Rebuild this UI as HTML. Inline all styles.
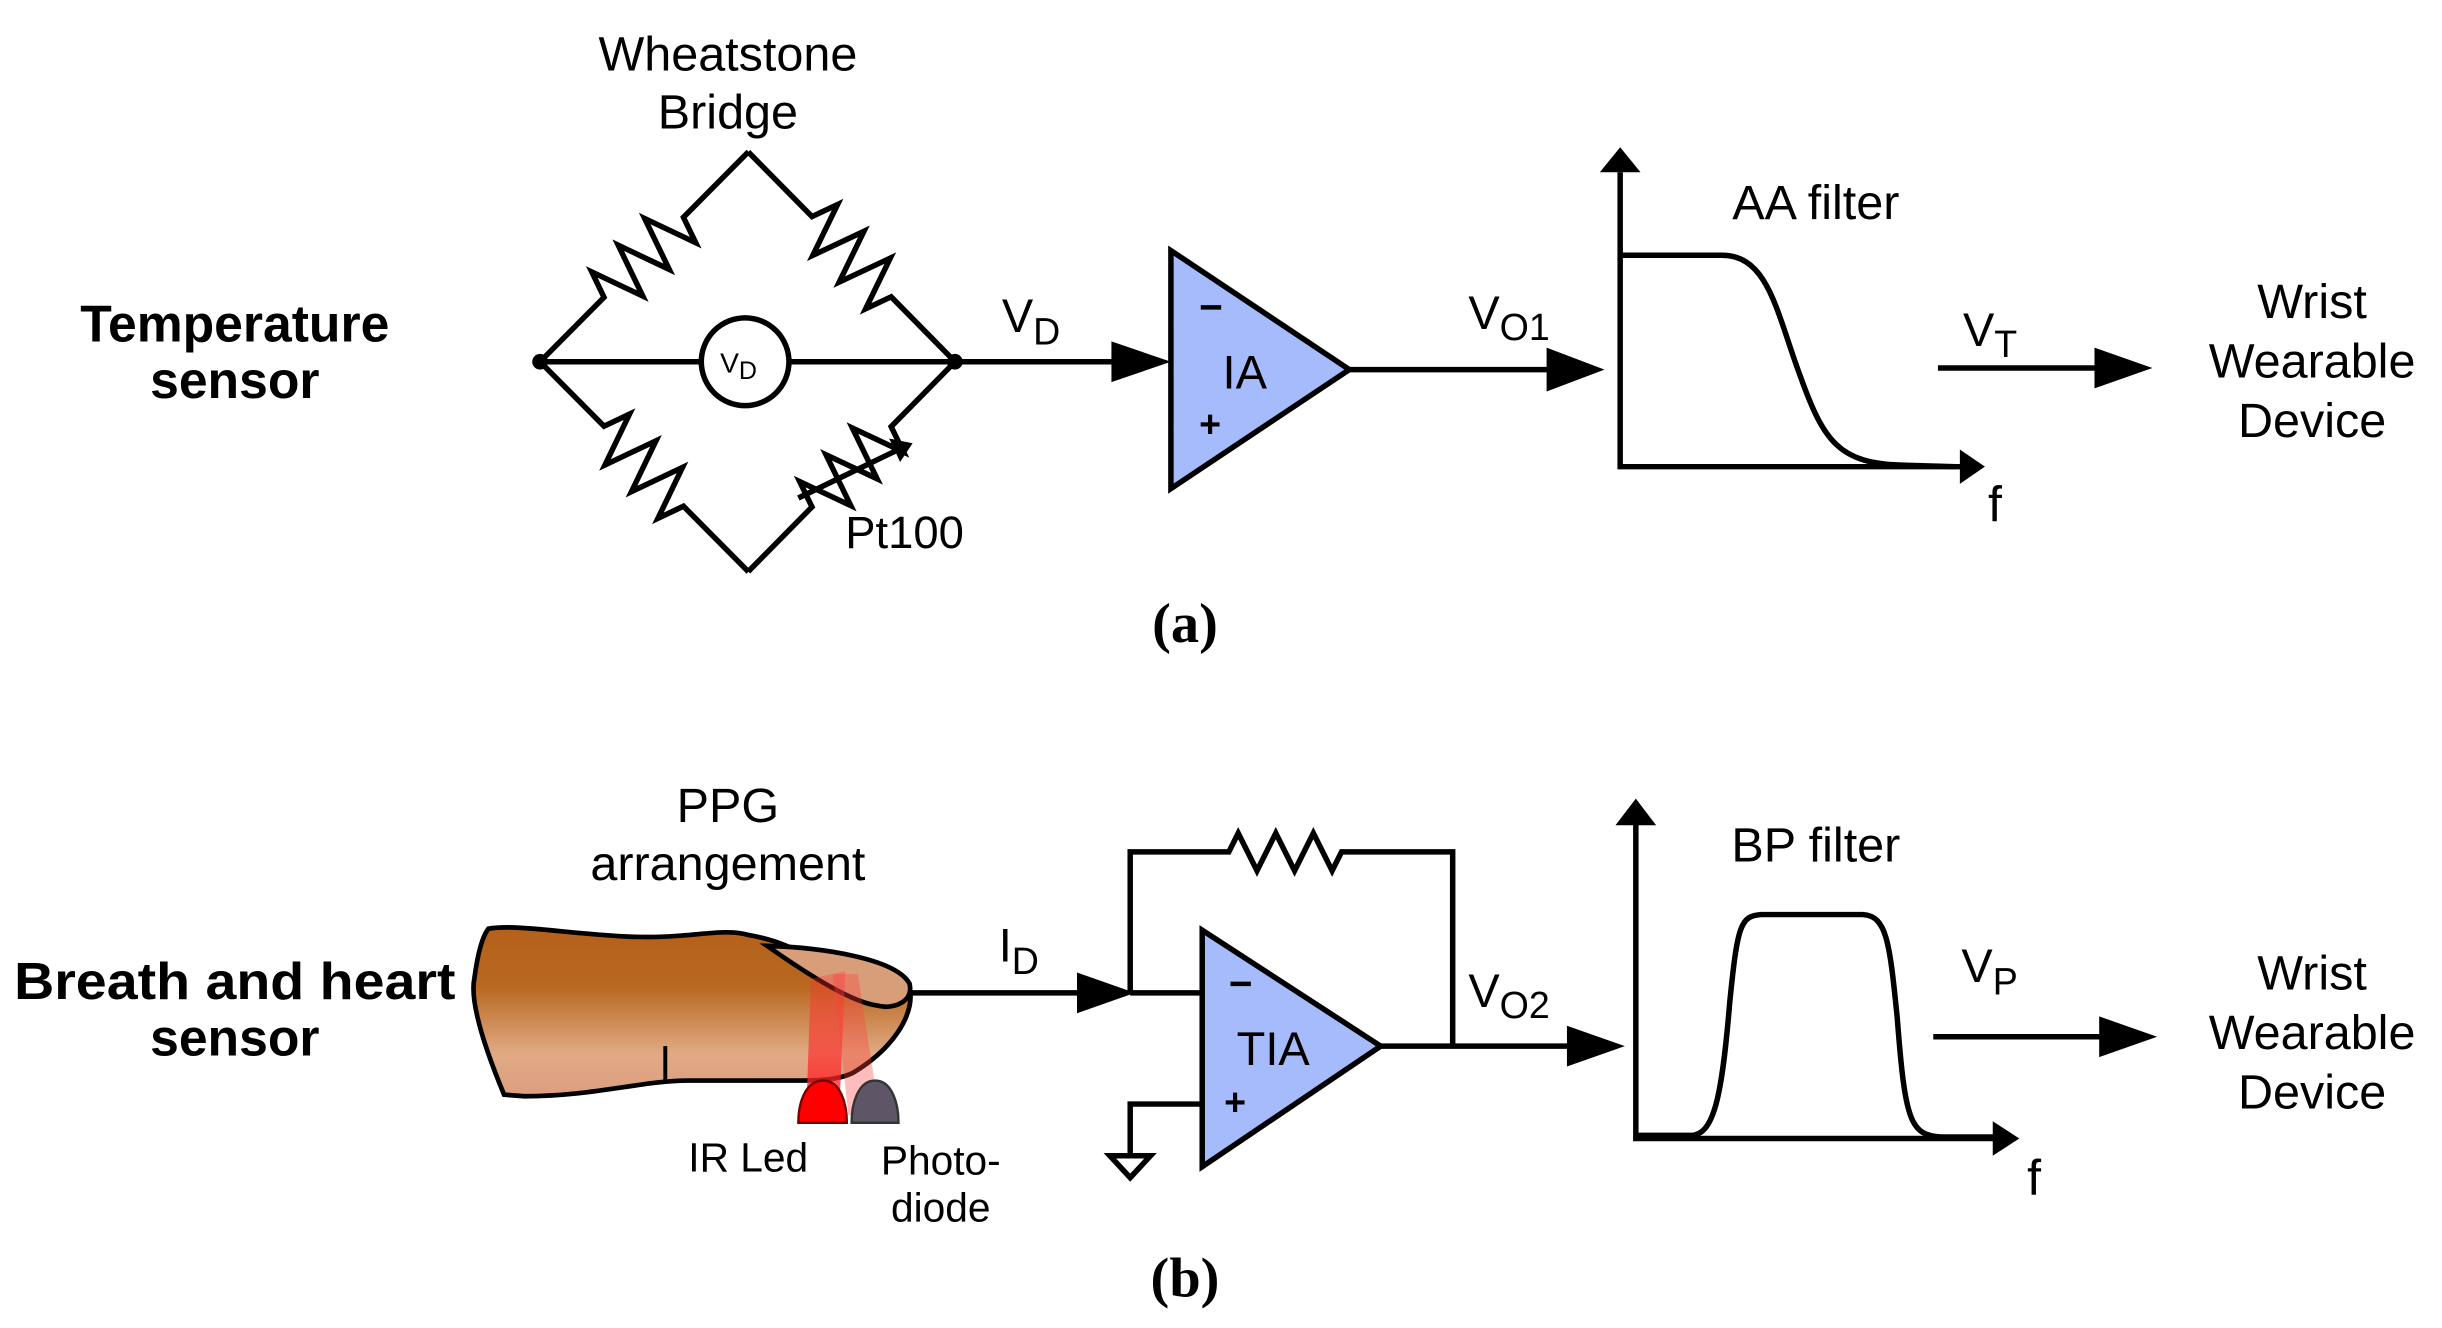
<!DOCTYPE html>
<html><head><meta charset="utf-8"><style>html,body{margin:0;padding:0;background:#fff}svg{display:block}</style></head>
<body>
<svg width="2442" height="1328" viewBox="0 0 1560 848" preserveAspectRatio="none" xmlns="http://www.w3.org/2000/svg">
<defs>
<linearGradient id="fg" x1="0" y1="0" x2="0" y2="1">
<stop offset="0" stop-color="#b5601c"/><stop offset="0.35" stop-color="#b96820"/><stop offset="0.75" stop-color="#e0aa84"/><stop offset="1" stop-color="#dc9e80"/>
</linearGradient>
<linearGradient id="beam" x1="0" y1="1" x2="0" y2="0">
<stop offset="0" stop-color="#ff2020" stop-opacity="0.9"/><stop offset="1" stop-color="#ff3030" stop-opacity="0.3"/>
</linearGradient>
</defs>
<g font-family="Liberation Sans, sans-serif" fill="#000">
<g stroke="#000" stroke-width="3.5" fill="none" stroke-linejoin="miter">
<g transform="translate(345,231) rotate(-45.2)"><path d="M0 0 L58 0 L64 -17 L76 17 L88 -17 L100 17 L112 -17 L124 17 L130 0 L189 0"/></g>
<g transform="translate(478,97) rotate(45.4)"><path d="M0 0 L58 0 L64 -17 L76 17 L88 -17 L100 17 L112 -17 L124 17 L130 0 L189 0"/></g>
<g transform="translate(345,231) rotate(45.2)"><path d="M0 0 L58 0 L64 -17 L76 17 L88 -17 L100 17 L112 -17 L124 17 L130 0 L189 0"/></g>
<g transform="translate(478,365) rotate(-45.4)"><path d="M0 0 L58 0 L64 -17 L76 17 L88 -17 L100 17 L112 -17 L124 17 L130 0 L189 0"/></g>
<path d="M345 231 H448 M504 231 H610 M610 231 H715"/>
<circle cx="476" cy="231" r="28" fill="#fff"/>
<path d="M510 318 L572 288"/>
<polygon points="748,160 748,312 862,236" fill="#a6bbfb"/>
<path d="M862 236 H992"/>
<path d="M1035 110 V298 H1255"/>
<path d="M1035 163 H1100 C1130 163 1135 200 1150 240 C1165 282 1175 296 1215 297 L1250 298"/>
<path d="M1238 235 H1342"/>
<path d="M582 634 H690 M722 634 V544 H785 L791 532 L803 556 L815 532 L827 556 L839 532 L851 556 L857 544 H928 V668 M722 634 H768"/>
<polygon points="768,594 768,745 882,668" fill="#a6bbfb"/>
<path d="M768 705 H722 V738"/>
<polygon points="709,738 735,738 722,752"/>
<path d="M882 668 H1005"/>
<path d="M1045 525 V727 H1277"/>
<path d="M1045 725 H1080 C1095 725 1100 700 1105 640 C1110 590 1112 585 1125 584 H1190 C1205 585 1207 600 1212 650 C1217 715 1220 725 1240 726 H1275"/>
<path d="M1235 662 H1345"/>
</g>
<circle cx="345" cy="231" r="5"/><circle cx="610" cy="231" r="5"/>
<polygon points="710,218 748,231 710,244"/>
<polygon points="988,222 1025,236 988,250"/>
<polygon points="1022,110 1035,94 1048,110"/>
<polygon points="1252,287 1268,298 1252,309"/>
<polygon points="1338,222 1375,235 1338,248"/>
<polygon points="568,280 583,283 575,295"/>
<polygon points="688,621 725,634 688,647"/>
<polygon points="1001,655 1038,668 1001,681"/>
<polygon points="1032,527 1045,510 1058,527"/>
<polygon points="1273,716 1290,727 1273,738"/>
<polygon points="1341,649 1378,662 1341,675"/>
<!-- finger -->
<path d="M312 593 C330 590 360 596 400 598 C440 600 460 592 478 597 C495 600 502 604 510 607 C545 608 576 616 581 630 C585 648 570 670 545 685 C535 690 520 690 510 690 L440 690 C410 690 380 700 335 700 L322 699 C310 670 300 640 303 625 C305 610 308 598 312 593 Z" fill="url(#fg)" stroke="#000" stroke-width="3"/>
<path d="M490 604 C525 605 572 612 581 628 C584 640 570 645 560 642 C545 640 520 625 490 604 Z" fill="#d89e7a" stroke="#000" stroke-width="3"/>
<path d="M425 668 V690" stroke="#000" stroke-width="2.5"/>
<polygon points="515,712 536,712 540,620 518,625" fill="url(#beam)"/>
<polygon points="542,712 562,712 548,622 532,622" fill="#ff4040" opacity="0.35"/>
<path d="M510 717 C510 705 514 690 526 690 C537 690 541 705 541 717 Z" fill="#ff0000" stroke="#700" stroke-width="1.5"/>
<path d="M544 717 C544 705 548 690 559 690 C570 690 574 705 574 717 Z" fill="#5e5566" stroke="#333" stroke-width="1.5"/>
<g font-size="31" text-anchor="middle">
<text x="465" y="45">Wheatstone</text>
<text x="465" y="82">Bridge</text>
<text x="1160" y="140">AA filter</text>
<text x="1477" y="203">Wrist</text><text x="1477" y="241">Wearable</text><text x="1477" y="279">Device</text>
<text x="465" y="525">PPG</text>
<text x="465" y="562">arrangement</text>
<text x="1160" y="550">BP filter</text>
<text x="1477" y="632">Wrist</text><text x="1477" y="670">Wearable</text><text x="1477" y="708">Device</text>
</g>
<g font-size="33" font-weight="bold" text-anchor="middle">
<text x="150" y="218">Temperature</text><text x="150" y="254">sensor</text>
<text x="150" y="638" textLength="282" lengthAdjust="spacingAndGlyphs">Breath and heart</text><text x="150" y="674">sensor</text>
</g>
<g font-family="Liberation Serif, serif" font-weight="bold" font-size="36" text-anchor="middle">
<text x="757" y="410">(a)</text><text x="757" y="828">(b)</text>
</g>
<text x="640" y="212" font-size="30">V<tspan font-size="24" dy="8">D</tspan></text>
<text x="460" y="238" font-size="18">V<tspan font-size="16" dy="4">D</tspan></text>
<text x="540" y="350" font-size="29">Pt100</text>
<text x="766" y="205" font-size="26" font-weight="bold">−</text>
<text x="766" y="279" font-size="24" font-weight="bold">+</text>
<text x="781" y="248" font-size="30">IA</text>
<text x="938" y="210" font-size="30">V<tspan font-size="24" dy="7">O1</tspan></text>
<text x="1270" y="333" font-size="32">f</text>
<text x="1254" y="221" font-size="30">V<tspan font-size="24" dy="7">T</tspan></text>
<text x="638" y="614" font-size="30">I<tspan font-size="24" dy="8">D</tspan></text>
<text x="785" y="637" font-size="26" font-weight="bold">−</text>
<text x="782" y="712" font-size="24" font-weight="bold">+</text>
<text x="790" y="680" font-size="30">TIA</text>
<text x="938" y="643" font-size="30">V<tspan font-size="24" dy="7">O2</tspan></text>
<text x="1295" y="763" font-size="32">f</text>
<text x="1253" y="627" font-size="30">V<tspan font-size="24" dy="8">P</tspan></text>
<text x="478" y="748" font-size="26" text-anchor="middle">IR Led</text>
<text x="601" y="750" font-size="26" text-anchor="middle">Photo-</text>
<text x="601" y="780" font-size="26" text-anchor="middle">diode</text>
</g>
</svg>
</body></html>
